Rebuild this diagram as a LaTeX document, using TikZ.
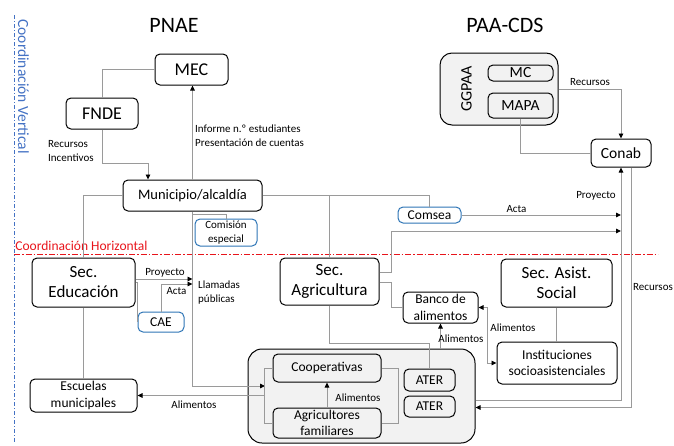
\documentclass[tikz,border=0pt]{standalone}
\usepackage{fontspec}
\setmainfont{Carlito}
\usetikzlibrary{arrows.meta}
\definecolor{azul}{HTML}{4472C4}
\definecolor{azulc}{HTML}{2E75B6}
\definecolor{rojo}{HTML}{E8141B}
\definecolor{linea}{HTML}{9A9A9A}
\definecolor{fondo}{HTML}{F2F2F2}
\newcommand{\fs}[2]{\fontsize{#1}{#2}\selectfont}

\begin{document}
\begin{tikzpicture}[x=1pt,y=-1pt,
caja/.style={draw,rounded corners=5pt,line width=1pt,inner sep=0pt,align=center},
cajaz/.style={caja,draw=azulc},
grupo/.style={draw,rounded corners=12pt,line width=1pt,fill=fondo},
con/.style={draw=linea,line width=0.9pt},
flecha/.style={con,-{Triangle[black,length=5pt,width=4.5pt]}},
dflecha/.style={con,{Triangle[black,length=5pt,width=4.5pt]}-{Triangle[black,length=5pt,width=4.5pt]}},
etq/.style={font=\fs{11}{14},inner sep=0pt,align=left}]
\useasboundingbox (0,0) rectangle (674,445);
\node[grupo,minimum width=118pt,minimum height=72pt] (ggpaa) at (499,89) {};
\node[grupo,rounded corners=14pt,minimum width=227pt,minimum height=94pt] (prod) at (361.5,396) {};
\node[font=\fs{22}{26}] (tpnae) at (174,25) {PNAE};
\node[font=\fs{22}{26}] (tpaa) at (505,25) {PAA-CDS};
\node[caja,font=\fs{18}{20},minimum width=73pt,minimum height=31pt] (mec) at (191.5,69.5) {MEC};
\node[caja,font=\fs{18}{20},minimum width=72pt,minimum height=31pt] (fnde) at (102,113.5) {FNDE};
\node[caja,font=\fs{14.5}{17},minimum width=139pt,minimum height=31pt] (muni) at (192.5,195.5) {Municipio/alcaldía};
\node[cajaz,font=\fs{11}{13.5},minimum width=62pt,minimum height=27pt] (comision) at (226,232.5) {Comisión\\especial};
\node[cajaz,font=\fs{13.5}{16},minimum width=63pt,minimum height=16pt] (comsea) at (429.5,215) {Comsea};
\node[caja,font=\fs{17}{20},minimum width=103pt,minimum height=49pt] (seced) at (83.5,282.5) {Sec.\\Educación};
\node[cajaz,font=\fs{13.5}{16},minimum width=46pt,minimum height=20pt] (cae) at (161,322) {CAE};
\node[caja,font=\fs{13.5}{16.5},minimum width=107pt,minimum height=33pt] (escuelas) at (83.5,395.5) {Escuelas\\municipales};
\node[caja,font=\fs{17}{20},minimum width=99pt,minimum height=47pt] (secagr) at (329.5,281.5) {Sec.\\Agricultura};
\node[caja,font=\fs{13.5}{16.5},minimum width=75pt,minimum height=31pt] (banco) at (440.5,307.5) {Banco de\\alimentos};
\node[caja,font=\fs{17}{20},minimum width=111pt,minimum height=48pt] (secasist) at (556.5,283) {Sec. Asist.\\Social};
\node[caja,font=\fs{13.5}{16.5},minimum width=120pt,minimum height=42pt] (inst) at (557,363) {Instituciones\\socioasistenciales};
\node[caja,font=\fs{13.5}{16},minimum width=108pt,minimum height=28pt] (coop) at (327,368) {Cooperativas};
\node[caja,font=\fs{13.5}{16},minimum width=108pt,minimum height=30pt] (agric) at (327,423) {Agricultores\\familiares};
\node[caja,font=\fs{13.5}{16},minimum width=51pt,minimum height=22pt] (ater1) at (429.5,380) {ATER};
\node[caja,font=\fs{13.5}{16},minimum width=51pt,minimum height=21pt] (ater2) at (429.5,406.5) {ATER};
\node[caja,font=\fs{15.5}{18},minimum width=65pt,minimum height=16pt] (mc) at (520.5,73) {MC};
\node[caja,font=\fs{15.5}{18},minimum width=65pt,minimum height=25pt] (mapa) at (520.5,105.5) {MAPA};
\node[rotate=90,font=\fs{16}{18},inner sep=0pt] (ggpaal) at (466.5,89) {GGPAA};
\node[caja,font=\fs{15.5}{18},minimum width=60pt,minimum height=28pt] (conab) at (621,153) {Conab};
\coordinate (brL) at (265,386);
% coordinacion
\draw[azul,line width=1pt,dash pattern=on 4pt off 2pt on 1pt off 2pt] (14,15) -- (14,442);
\node[rotate=-90,text=azul,font=\fs{15.5}{18},inner sep=0pt] (cv) at (23.5,86.5) {Coordinación Vertical};
\draw[rojo,line width=1pt,dash pattern=on 6pt off 2pt on 1.5pt off 2pt] (14,254) -- (658,254);
\node[text=rojo,font=\fs{13.5}{16},inner sep=0pt] (ch) at (81.5,246) {Coordinación Horizontal};
% PNAE
\draw[con] (mec.west) -| (fnde.north);
\draw[flecha] (fnde.south) -- ++(0,34) -| ([xshift=-44.5pt]muni.north);
\draw[flecha] (muni.north) -- (muni.north |- mec.south);
\draw[con] (muni.west) -| (seced.north);
\draw[con] (seced.south) -- (escuelas.north);
\draw[con] (muni.east) -| (comsea.north);
\draw[con] (secagr.north) -- (secagr.north |- muni.east);
\draw[flecha] (muni.south) |- (brL);
\draw[con] (muni.south) ++(0,3) -| (comision.north);
\draw[flecha] ([yshift=3.5pt]seced.east) -- ([yshift=3.5pt]seced.east -| muni.south);
\draw[flecha] (cae.north) |- ([yshift=-1.5pt]seced.east -| muni.south);
\draw[con] (seced.east) -- ++(2,0) |- (cae.west);
% productores
\draw[con] (coop.west) -- ++(-8,0) |- (agric.west);
\draw[con] (coop.east) -- ++(17,0) |- (agric.east);
\draw[flecha] (agric.north) -- (coop.south);
\draw[flecha] (brL |- escuelas.east) -- (escuelas.east);
% PAA
\draw[flecha] ([yshift=9.5pt]secagr.east) -- ++(12,0) |- ([yshift=-16pt]comsea.east -| conab.south);
\draw[con] ([yshift=-0.5pt]secagr.east) -- ++(12,0) |- (banco.west);
\draw[con] (secagr.south) |- ([yshift=25pt]ater1.north) -- (ater1.north);
\draw[flecha] (prod.north -| banco.south) -- (banco.south);
\draw[dflecha] (banco.east) -- ++(9,0) |- (inst.west);
\draw[con] (secasist.south) -- (secasist.south |- inst.north);
\draw[flecha] (comsea.east) -- (comsea.east -| conab.south);
\draw[flecha] (ggpaa.east) -| (conab.north);
\draw[con] (mapa.south) |- (conab.west);
\draw[flecha] ([yshift=-4pt]prod.east) -| (conab.south);
\draw[flecha] ([xshift=10pt]conab.south) |- ([yshift=-11.5pt]prod.east);
% etiquetas
\node[etq,anchor=west] (lrec1) at (48,151) {Recursos\\Incentivos};
\node[etq,anchor=west] (linf) at (195,136) {Informe n.º estudiantes\\Presentación de cuentas};
\node[etq] (lpro1) at (165,273) {Proyecto};
\node[etq] (lact1) at (176.5,291) {Acta};
\node[etq,anchor=west] (llla) at (198,293) {Llamadas\\públicas};
\node[etq] (lali1) at (194,405) {Alimentos};
\node[etq] (lali2) at (358,398) {Alimentos};
\node[etq] (lali3) at (461,339) {Alimentos};
\node[etq] (lali4) at (513,328) {Alimentos};
\node[etq] (lact2) at (516.5,209) {Acta};
\node[etq] (lpro2) at (596,196) {Proyecto};
\node[etq] (lrec2) at (590,82) {Recursos};
\node[etq] (lrec3) at (653,287) {Recursos};
\end{tikzpicture}
\end{document}
